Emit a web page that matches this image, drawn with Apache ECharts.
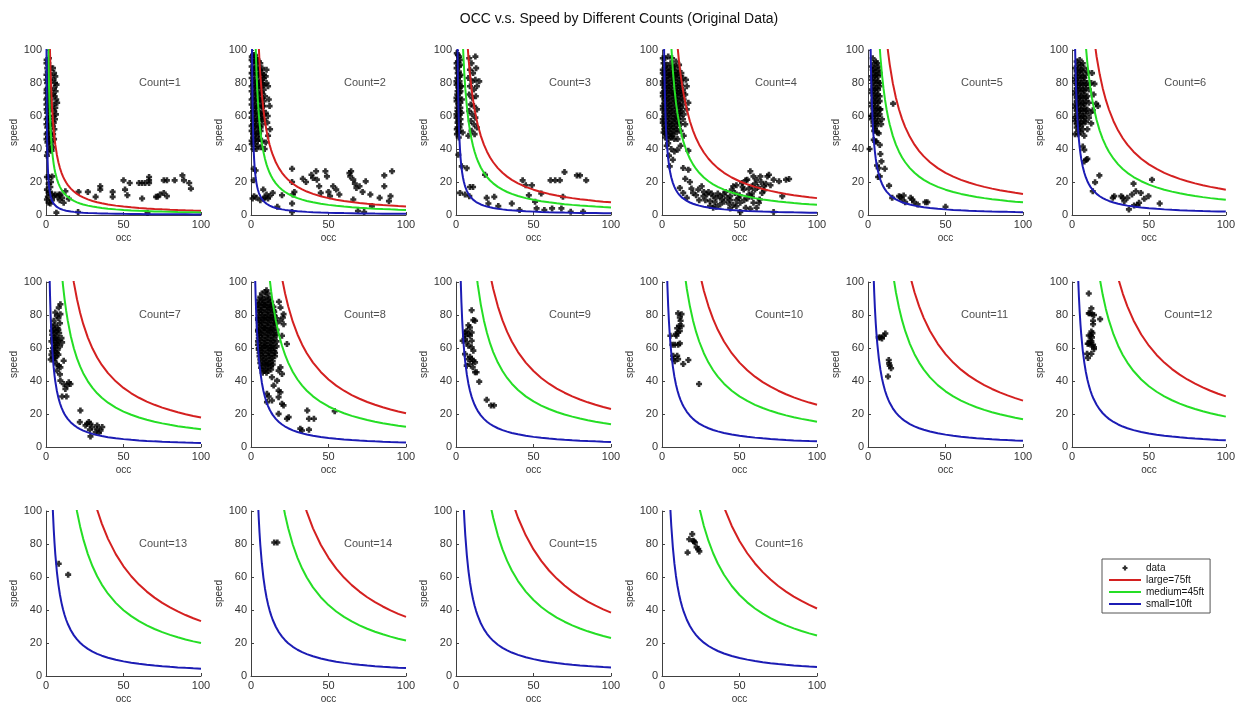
<!DOCTYPE html>
<html><head><meta charset="utf-8">
<script src="https://cdn.jsdelivr.net/npm/echarts@6/dist/echarts.min.js"></script>
<style>html,body{margin:0;padding:0;background:#fff}#c{width:1238px;height:706px}</style>
</head><body><div id="c"></div>
<script>
const titleText = 'OCC v.s. Speed by Different Counts (Original Data)';
const countValues = [1,2,3,4,5,6,7,8,9,10,11,12,13,14,15,16];
const countLabels = ['Count=1','Count=2','Count=3','Count=4','Count=5','Count=6','Count=7','Count=8','Count=9','Count=10','Count=11','Count=12','Count=13','Count=14','Count=15','Count=16'];
const curveNames = ['large=75ft','medium=45ft','small=10ft'];
const vehicleLengthsFt = [75,45,10];
const speedFactor = 3.41; // speed = count * length * factor / occ
const occSamples = [0.15,0.2,0.25,0.3,0.35,0.4,0.5,0.6,0.7,0.8,0.9,1,1.2,1.4,1.6,1.8,2,2.3,2.6,3,3.5,4,4.5,5,5.5,6,7,8,9,10,11,12,13,14,16,18,20,22,24,27,30,33,36,40,45,50,55,60,65,70,75,80,85,90,95,100];
const xTicks = [0,50,100];
const yTicks = [0,20,40,60,80,100];

const count1 = [[0.4,94],[1.5,92],[0.8,89],[2.2,88],[0.3,85],[1.4,84],[2.5,82],[0.7,80],[1.8,78],[0.4,76],[1.3,74],[2.4,73],[0.8,71],[1.9,69],[0.3,67],[1.4,65],[2.6,64],[0.7,62],[1.8,60],[0.4,58],[1.3,56],[2.3,55],[0.8,53],[1.9,51],[0.4,49],[1.3,47],[2.2,46],[0.9,44],[1.7,42],[2.5,40],[1.2,38],[0.6,36],
[1.9,95],[0.3,92],[2.4,90],[1.1,87],[2.7,85],[0.3,82],[1.6,81],[1.1,77],[2.6,76],[0.3,74],[1.7,72],[0.2,70],[2.7,70],[1.1,68],[2.3,66],[0.4,64],[1.6,63],[1.1,59],[2.7,58],[0.3,55],[1.8,54],[1.1,50],[2.7,49],[0.3,46],[1.9,44],
[4.5,89],[5.2,86],[6,84],[4.8,82],[5.8,80],[6.8,79],[5.2,77],[6.2,75],[4.6,73],[5.6,72],[6.6,70],[7.2,68],[5,67],[6,65],[5.3,63],[6.4,61],[4.7,60],[5.8,58],[5,56],[4.4,54],[5.4,52],[4.6,49],[5.2,46],[3.8,44],[4.4,41],[3.6,39],
[0.6,23],[2,23],[4,23.4],[1.7,19],[2.8,17],[0.6,15.4],[1.7,13.4],[4,12.4],[5,11.4],[6,12.4],[7.5,11],[9.3,12.4],[10.4,10.4],[8.9,9],[11.4,7.4],[12.5,14.4],[0.6,9.4],[1.7,7.4],[2.8,7],[3.9,9],[6.7,1.4],[14.7,9.8],[8.2,12.4],[3.2,20],[1.2,11],[2.5,14],
[21,14],[27,14],[32,11],[35,17.4],[35,15.4],[43,14],[43,11],[50,21],[51,15.4],[52.5,12],[54,19.4],[60,19.4],[62,19.4],[62,10],[64,19.4],[66.5,21],[66.5,19.4],[66.5,23],[65.5,1.4],[72,11],[73.6,12.4],[76,13.4],[76,21],[78,11.4],[78,21],[83,21],[88,24],[89,21],[92.4,19.4],[93.5,16],[71,11],[20.7,1.8]];

const count2 = [[0.5,96],[2.5,97],[1.2,93],[3.2,92],[5,93],[0.4,90],[2.3,89],[4.2,90],[6,88],[1.2,86],[3.3,86],[5.2,85],[7,86],[0.4,83],[2.3,82],[4.3,82],[6.2,81],[8,83],[1.3,79],[3.2,78],[5.3,78],[7.2,79],[0.4,75],[2.3,75],[4.3,74],[6.2,74],[8.2,76],[1.3,71],[3.3,71],[5.2,70],[7.2,71],[9,72],[0.4,67],[2.3,67],[4.3,66],[6.2,67],[8.2,66],[1.3,63],[3.2,63],[5.3,62],[7.2,63],[9.5,62],[0.4,59],[2.3,59],[4.3,58],[6.2,59],[8.3,58],[10.5,56],[1.3,55],[3.2,55],[5.2,54],[7.2,55],[0.4,51],[2.3,51],[4.3,50],[6.2,51],[1.3,47],[3.3,47],[5.3,46],[7,45],[0.5,43],[2.4,43],[4.2,42],[6.3,41],[1.5,40],[3.5,40],
[1.3,97],[3.5,95],[0.4,94],[2.3,93],[4.2,94],[6,92],[1.3,88],[3.3,89],[5.2,88],[7.2,89],[0.4,86],[2.3,85],[4.3,85],[6.2,85],[8.2,85],[1.3,81],[3.3,80],[5.3,80],[7.2,82],[0.4,78],[2.3,77],[4.3,77],[6.2,77],[8.3,79],[1.3,73],[3.3,73],[5.2,73],[7.2,74],[0.4,70],[2.3,69],[4.3,69],[6.2,70],[8.2,69],[1.3,65],[3.3,65],[5.2,65],[7.2,66],[0.4,62],[2.3,61],[4.3,61],[6.2,61],[8.2,61],[1.3,57],[3.3,57],[5.2,57],[7.2,58],[0.4,54],[2.3,53],[4.3,53],[6.2,53],[1.3,49],[3.3,49],[5.2,49],[0.4,45],[2.3,45],[4.3,45],
[10,80],[11,78],[9.5,84],[11.5,70],[12,66],[10.8,60],[12.3,52],[11,48],[9.5,44],[8.8,40],[10,88],
[1.7,28],[1.7,21],[2,11.4],[3.6,10.4],[7.9,15.4],[10,12.4],[11,10],[12,11.4],[9,10.4],[14,13.4],[17,5],[20,12],[26.5,28],[26.5,20],[27,12.4],[28,14],[26.5,7],[26.5,1.8],[33.4,22],[35.5,20],[39,24.4],[40,22.4],[42,26.5],[42.5,21.4],[44,17.4],[45,13.4],[48,26.5],[49,23.4],[50,14],[51,11.4],[53,17.4],[55,15.4],[57,12.4],[63.5,25.4],[64.6,26.5],[64,23.4],[66,21.4],[67,19],[68,16.4],[70,17.4],[72,14],[74,20.4],[77,12.4],[78,5.4],[83,10.4],[86,17.4],[86,24],[89,8.4],[90,11.4],[91,26.5],[66,9.4],[69,2.4],[73,1.8],[6,9],[8,10],[3,27],[1,10]];

const count3 = [[0.5,98],[2,96],[1.2,93],[2.8,91],[0.4,89],[1.8,87],[3,85],[0.9,83],[2.3,81],[0.4,79],[1.6,77],[2.9,75],[0.8,73],[2.1,71],[0.4,69],[1.5,67],[2.8,65],[0.9,63],[2.2,61],[0.4,59],[1.6,57],[2.9,55],[1,53],[2.2,51],[0.6,49],[1.8,47],[3.5,62],[3.8,70],[3.6,78],[4.3,50],
[1.2,97],[2.6,94],[0.4,92],[1.9,90],[1.1,86],[2.4,84],[0.3,81],[1.5,80],[2.8,78],[1,75],[2.3,74],[0.3,71],[1.4,70],[2.8,68],[1,65],[2.3,63],[0.3,61],[1.5,60],[2.9,58],[1,56],[2.3,53],[0.5,52],[1.6,50],
[8.5,95],[10,92],[12.5,96],[9,88],[11,86],[13,89],[8,83],[10.5,81],[12.5,82],[15,81],[9,78],[11.5,76],[13.5,78],[8.5,73],[10.5,71],[12.8,72],[9.5,67],[11.5,66],[13.5,64],[8.5,63],[10.5,61],[12.5,59],[9.5,57],[11.5,55],[13.5,53],[10,51],[12,49],[8,48],
[1.5,36.5],[3.7,29.5],[6.9,28.4],[5.8,12.4],[2.6,13.4],[9,17],[11,17],[8.6,11.4],[18.7,24.4],[19.8,10.4],[20.9,7],[24.7,11],[27.3,5.4],[36,7],[41,3],[43,21],[45,18],[49,18],[47,12],[51,8],[52,4],[55,13],[57,3],[61,21],[64,21],[67,21],[70,26],[69,11],[68,4],[62,4],[78,24],[80,24],[84,21],[82,2],[74,2]];

const count4 = [[1,92],[3,91],[5.5,92],[7.5,90],[0.5,88],[2.5,88],[4.5,87],[6.5,88],[8.5,87],[10.5,88],[1.5,85],[3.5,84],[5.5,85],[7.5,84],[9.5,85],[11.5,84],[0.5,81],[2.5,81],[4.5,80],[6.5,81],[8.5,81],[10.5,80],[12.5,81],[1.5,77],[3.5,77],[5.5,77],[7.5,76],[9.5,77],[11.5,77],[13.5,76],[0.5,74],[2.5,74],[4.5,73],[6.5,74],[8.5,73],[10.5,74],[12.5,73],[1.5,70],[3.5,70],[5.5,69],[7.5,70],[9.5,70],[11.5,69],[14,70],[0.5,66],[2.5,66],[4.5,66],[6.5,65],[8.5,66],[10.5,66],[12.5,65],[1.5,62],[3.5,62],[5.5,62],[7.5,61],[9.5,62],[11.5,62],[14,61],[0.5,58],[2.5,58],[4.5,58],[6.5,57],[8.5,58],[10.5,58],[1.5,54],[3.5,54],[5.5,54],[7.5,53],[9.5,54],[12,55],[1,50],[3,50],[5,50],[7,49],[9.5,50],[2,47],[4,46],[6,47],[8,46],
[2,95],[4,96],[6.5,95],[9,93],[0.5,95],[2,90],[4,89],[6.5,90],[8.5,90],[11,91],[0.5,86],[2.5,86],[4.5,85],[6.5,86],[8.5,85],[10.5,86],[12.5,86],[1.5,83],[3.5,82],[5.5,83],[7.5,82],[9.5,83],[11.5,82],[13.5,83],[0.5,79],[2.5,79],[4.5,78],[6.5,79],[8.5,79],[10.5,78],[12.5,79],[1.5,75],[3.5,75],[5.5,75],[7.5,74],[9.5,75],[11.5,75],[13.5,74],[0.5,72],[2.5,72],[4.5,71],[6.5,72],[8.5,71],[10.5,72],[12.5,71],[1.5,68],[3.5,68],[5.5,67],[7.5,68],[9.5,68],[11.5,67],[13.5,67],[0.5,64],[2.5,64],[4.5,64],[6.5,63],[8.5,64],[10.5,64],[12.5,63],[1.5,60],[3.5,60],[5.5,60],[7.5,59],[9.5,60],[11.5,60],[0.5,56],[2.5,56],[4.5,56],[6.5,55],[8.5,56],[10.5,56],[1.5,52],[3.5,52],[5.5,52],[7.5,51],[9.5,52],[2.5,49],[4.5,48],[6.5,48],
[15.5,82],[16,78],[15,73],[17,68],[16,64],[13.5,58],[15,55],[12,51],[10,46],[14,48],
[7,33.5],[8,38.5],[10,39.5],[4,43.5],[5,29.5],[13.7,28.5],[17,27.5],[17,39],[3,42],[6,40],[12,42],[4.5,36],
[11.5,16.4],[13.7,13.4],[16,10.4],[20,13.4],[23.4,15.4],[25.6,17.4],[26.7,11.4],[29,12.4],[31,8.4],[33,11.4],[34,7.8],[35,10.4],[37.5,11.4],[38.6,9.4],[39.7,12.4],[42,10.4],[44,11.4],[45,15.4],[46,17.4],[47,13.4],[49.5,10.4],[50.5,7.4],[51.6,19.4],[52.7,15.4],[55,21.4],[56,12.4],[57,26.5],[58,17.4],[59,23.4],[60,15.4],[61,21.4],[62.5,7.4],[63.5,23.4],[65.7,17.4],[68,23.4],[69,24.4],[72,21.4],[75.5,20.4],[77.6,11.4],[80,21.4],[82,21.8],[50.5,1.8],[72,1.8],[31,5.4],[33,4.4],[37.5,6.4],[43,7],[48,5.4],[54,4.4],[57,3.8],[59,7.4],[61,4.4],[63,9.4],[64.6,13.4],[28,9],[30,14],[32,13],[36,13],[40,8],[41,14],[44,9],[46,6],[48,9],[50,12],[53,9],[55,10],[58,11],[60,19],[62,17],[64,20],[66,15],[67,19],[70,18],[58,13],[56,16],[24,9],[22,12],[27,14],[35,5],[44,4],[52,17],[54,21],[48,18],[19,16],[18,20],[15,22]];

const count5 = [[3,95],[5,93],[2.5,90],[4.5,89],[6.5,90],[3.5,86],[5.5,85],[7.5,86],[2.5,82],[4.5,82],[6.5,81],[3.5,78],[5.5,77],[7.5,78],[2.5,74],[4.5,74],[6.5,73],[3.5,70],[5.5,70],[7.5,69],[2.5,66],[4.5,66],[6.5,65],[3.5,62],[5.5,62],[7.5,61],[2.5,58],[4.5,58],[6.5,57],[3.5,54],[5.5,54],[4,51],[6,50],[8.5,55],[8,64],[9,58],[2,60],
[4,92],[6,92],[3,88],[5,87],[7,88],[2.5,84],[4.5,84],[6.5,84],[3.5,80],[5.5,80],[7.5,80],[2.5,76],[4.5,76],[6.5,76],[3.5,72],[5.5,72],[7.5,72],[2.5,68],[4.5,68],[6.5,68],[3.5,64],[5.5,64],[7.5,64],[2.5,60],[4.5,60],[6.5,60],[3.5,56],[5.5,56],[4.5,52],
[1,40],[4.8,44.5],[7.6,42.5],[8,37],[8.7,32.5],[6.9,28.4],[5.8,30],[10.8,28],[7.6,23.4],[6.5,23],[13.6,17.8],[16.2,67.5],[15.6,10.4],[20,11.4],[21,11],[22,9.4],[23,11.8],[24,7.8],[27.5,10.4],[28.6,9.4],[29.7,7.8],[32,6.4],[37,7.8],[38.3,7.8],[50,5],[5.4,44.5],[6.9,49.5],[3.7,45.5]];

const count6 = [[3,93],[5,94],[7,92],[2,89],[4,89],[6,88],[8,89],[10,87],[3,85],[5,85],[7,84],[9,85],[2,81],[4,81],[6,80],[8,81],[10,80],[12.5,80],[3,77],[5,77],[7,76],[9,77],[11,76],[2,73],[4,73],[6,72],[8,73],[10,72],[3,69],[5,69],[7,68],[9,69],[11,68],[14.6,79.5],[15.7,67.5],[16.8,66],[13.5,63.5],[2,65],[4,65],[6,64],[8,65],[10,64],[12,62],[3,61],[5,61],[7,60],[9,61],[11,59],[2,57],[4,57],[6,56],[8,57],[9.2,56.5],[12.5,55.5],[3,53],[5,53],[7,52],[10,52],[2,49],[4,49],[6,50],[8,48],[14,73],[13,86],
[4,91],[6,91],[3,87],[5,87],[7,87],[2,83],[4,83],[6,83],[8,83],[3,79],[5,79],[7,79],[9,79],[2,75],[4,75],[6,75],[8,75],[3,71],[5,71],[7,71],[9,71],[2,67],[4,67],[6,67],[8,67],[3,63],[5,63],[7,63],[9,63],[2,59],[4,59],[6,59],[8,59],[3,55],[5,55],[7,55],[4,51],
[7,41.5],[8,39.5],[9.2,33.5],[10,34],[8,32.5],[13.5,14.4],[15,19.8],[17.8,24],[26.5,10.4],[27.5,11.4],[32,11.4],[33,10.4],[34,8.4],[37,3.4],[36,10.4],[39,12.4],[40,19],[41.5,14.4],[42.6,6],[43.6,7.4],[44.7,13.4],[47,9.8],[49.7,11.4],[52,21.4],[57,7],[40.4,5.8]];

const count7 = [[9.3,86.5],[8.2,84.5],[6,81.5],[7,79.5],[9.3,80.5],[5,76.5],[3.9,70.4],[10.4,63.4],[4.5,73],[6,74],[7.5,72],[9,75],[4,68],[5.5,69],[7,67],[8.5,69],[3.5,64],[5,65],[6.5,63],[8,64],[4.5,60],[6,60],[7.5,59],[9,61],[3.5,56],[5,57],[6.5,55],[8,56],[3,53],[5.5,52],[7,50],[11.4,52.3],[8.2,49.3],[9.3,48.3],[7,46.3],[9.3,40.2],[11.4,38.2],[12.5,35.2],[13.6,37.2],[14.7,39.2],[15.8,38.2],[10.4,30.6],[13.2,30.6],[22.2,22.1],[21.8,15.1],[25.5,13.1],[26.6,14.1],[27.6,15.1],[28.7,14.1],[28.3,10.5],[29.8,12.1],[28.7,6.4],[32,9],[33,11],[35.2,10],[36.3,12.1],[34.1,8.5],[33,13.1],[9,44],[10,66],[8,78],
[5,71],[6.5,70],[8,71],[4.5,66],[6,66],[7.5,65],[5.5,62],[7,62],[4,58],[5.5,58],[7,57],[4.5,54],[6,54]];

const count8 = [[9,94],[11,93],[6,91],[8,90],[10,91],[12,90],[5,87],[7,87],[9,86],[11,87],[13,86],[4.5,84],[6.5,83],[8.5,84],[10.5,83],[12.5,84],[14.5,83],[5,80],[7,80],[9,79],[11,80],[13,79],[15,80],[4.5,77],[6.5,76],[8.5,77],[10.5,76],[12.5,77],[14.5,76],[16.5,75],[5,73],[7,73],[9,72],[11,73],[13,72],[15,73],[4.5,70],[6.5,69],[8.5,70],[10.5,69],[12.5,70],[14.5,69],[16.5,68],[5,66],[7,66],[9,65],[11,66],[13,65],[15,66],[4.5,62],[6.5,62],[8.5,61],[10.5,62],[12.5,61],[14.5,62],[16.5,61],[5,59],[7,58],[9,59],[11,58],[13,59],[15,58],[5.5,55],[7.5,55],[9.5,54],[11.5,55],[13.5,54],[15.5,55],[6,51],[8,51],[10,50],[12,51],[14,50],[6.5,48],[9,47],[11,48],[13,47],[7.5,45],[10,45],
[7,93],[10,95],[5,89],[7,89],[9,88],[11,89],[13,88],[4.5,86],[6.5,85],[8.5,86],[10.5,85],[12.5,85],[14.5,85],[5,82],[7,82],[9,81],[11,82],[13,81],[15,82],[4.5,78],[6.5,78],[8.5,78],[10.5,78],[12.5,78],[14.5,78],[16.5,78],[5,75],[7,75],[9,74],[11,75],[13,74],[15,75],[4.5,71],[6.5,71],[8.5,72],[10.5,71],[12.5,71],[14.5,71],[16.5,71],[5,68],[7,68],[9,67],[11,68],[13,67],[15,68],[4.5,64],[6.5,64],[8.5,63],[10.5,64],[12.5,63],[14.5,64],[16.5,64],[5,60],[7,60],[9,61],[11,60],[13,60],[15,60],[5.5,57],[7.5,57],[9.5,56],[11.5,57],[13.5,56],[15.5,57],[6,53],[8,53],[10,52],[12,53],[14,52],[7,49],[9,50],[11,50],[13,49],[8.5,46],[11,46],
[19,84.5],[20.6,78.5],[21,74.4],[20,67.4],[23.2,62.4],[19,48.3],[17.8,46.3],[20,44.3],[13.5,42.3],[16.8,40.2],[14.6,37.2],[10.3,32.2],[11.4,30.6],[13.5,28.2],[10.3,27.2],[17.8,34.2],[19,33.2],[17.8,30.2],[20,26.2],[21,25.2],[17.8,20.1],[23.2,17.1],[24.3,18.1],[31.8,11.1],[32.9,10],[36.3,22.1],[37.4,10.5],[37.4,17.1],[40.6,17.1],[54,21.7],[21,80.5],[19,76.5],[18,88]];

const count9 = [[10.1,82.9],[11.2,76.9],[12.3,76.5],[8,73.8],[9,72.4],[6.9,70.4],[5.8,69.4],[8,68.4],[10.1,69.4],[9,67.4],[5.8,65.4],[4.3,64.4],[6.9,63.4],[10.1,64.4],[8,61.4],[10.1,60.4],[11.2,58.4],[5.8,56.3],[9,54.7],[8,53.3],[10.1,53.3],[11.2,52.3],[12.3,51.3],[9,50.3],[6.9,49.3],[10.8,48.3],[12.3,45.3],[13.3,45.3],[15,39.6],[19.8,28.6],[22.6,25.2],[24.5,25.2],[5.8,67.4]];

const count10 = [[5.4,67.4],[6.7,62],[8.2,62],[10.4,62],[11.5,62.8],[9.3,67.4],[10.4,69.4],[11.5,70.4],[9.8,72],[11,73.4],[12,76.5],[12.6,80.5],[10.4,81],[11.5,78.5],[12.6,73.4],[7.2,53.3],[8.2,52],[9.8,55.3],[10.4,53.3],[13.7,50.3],[17,52.7],[23.9,38.2],[7.2,55.3],[8.9,68.4]];

const count11 = [[6.9,66.4],[8,66.4],[9,65.8],[10.1,67.4],[11.2,68.8],[13.4,52.7],[14,49.3],[14.9,47.7],[12.9,42.7],[13.6,50.7]];

const count12 = [[10.9,93],[12.6,84],[11.5,81],[13,80.5],[14.3,80],[10.9,81],[13.7,76.5],[13.7,74.4],[12.6,70],[13.3,69],[12.2,67.6],[10.9,67.6],[13,66.4],[11.5,64.2],[12.6,64],[10.2,62.6],[13.7,62],[14.3,60.4],[14.3,59.4],[9.8,56.5],[12.6,56.5],[10.4,54],[18.3,77.5],[10.9,62.6],[12.2,62]];

const count13 = [[8.2,68],[14.3,61.4]];
const count14 = [[15,80.9],[17,80.9]];
const count15 = [];
const count16 = [[19.5,86],[17.6,82.9],[20.2,82],[21.3,80.9],[16.5,74.8],[22.3,78.1],[23.4,76.9],[24.1,75.5],[20.6,81.5]];

const panelData = [count1,count2,count3,count4,count5,count6,count7,count8,count9,count10,count11,count12,count13,count14,count15,count16];

// layout
const colLeft = [46, 251, 456, 662, 868, 1072];
const rowTop = [50, 282, 511];
const plotW = 155, plotH = 165;
const curveColors = ['#d42020', '#25de25', '#1c1cb4'];
const plusPath = 'path://M1.4,0H3.6V1.4H5V3.6H3.6V5H1.4V3.6H0V1.4H1.4Z';
const FONT = 'Liberation Sans, Arial, sans-serif';

const grids = [], xAxes = [], yAxes = [], series = [];
panelData.forEach((pts, i) => {
  const r = Math.floor(i / 6), c = i % 6;
  grids.push({ left: colLeft[c], top: rowTop[r], width: plotW, height: plotH });
  const axisCommon = {
    gridIndex: i, type: 'value', min: 0, max: 100,
    nameLocation: 'middle',
    nameTextStyle: { fontSize: 10, color: '#333', fontFamily: FONT },
    axisLine: { show: true, lineStyle: { color: '#404040', width: 1 } },
    axisTick: { show: true, inside: true, length: 3, lineStyle: { color: '#404040' } },
    axisLabel: { fontSize: 11, color: '#333', fontFamily: FONT, margin: 4 },
    splitLine: { show: false }
  };
  xAxes.push(Object.assign({}, axisCommon, { interval: xTicks[1] - xTicks[0], name: 'occ', nameGap: 18 }));
  yAxes.push(Object.assign({}, axisCommon, { interval: yTicks[1] - yTicks[0], name: 'speed', nameGap: 26 }));
  series.push({
    type: 'scatter', name: 'data', xAxisIndex: i, yAxisIndex: i, data: pts,
    symbol: plusPath, symbolSize: 6, itemStyle: { color: '#000' }, z: 2, silent: true
  });
  curveNames.forEach((nm, k) => {
    series.push({
      type: 'line', name: nm, xAxisIndex: i, yAxisIndex: i,
      data: occSamples.map(o => [o, countValues[i] * vehicleLengthsFt[k] * speedFactor / o]),
      symbol: 'none', showSymbol: false, clip: true, color: curveColors[k],
      lineStyle: { width: 2, color: curveColors[k] }, z: 3 + k, silent: true
    });
  });
  series.push({
    type: 'scatter', xAxisIndex: i, yAxisIndex: i, data: [[60, 80]], symbolSize: 0, silent: true, z: 10,
    label: { show: true, position: 'right', distance: 0, formatter: countLabels[i], fontSize: 11, color: '#222', fontFamily: FONT }
  });
});

const chart = echarts.init(document.getElementById('c'), null, { renderer: 'canvas' });
chart.setOption({
  animation: false,
  backgroundColor: '#fff',
  textStyle: { fontFamily: FONT },
  title: { text: titleText, left: 'center', top: 7, textStyle: { fontSize: 14, fontWeight: 'normal', color: '#111', fontFamily: FONT } },
  legend: {
    orient: 'vertical', left: 1102, top: 559,
    data: [
      { name: 'data', icon: plusPath },
      { name: 'large=75ft', itemStyle: { opacity: 0 } },
      { name: 'medium=45ft', itemStyle: { opacity: 0 } },
      { name: 'small=10ft', itemStyle: { opacity: 0 } }
    ],
    itemWidth: 32, itemHeight: 5, itemGap: 2, padding: [4, 6, 4, 6],
    borderColor: '#555', borderWidth: 1, backgroundColor: '#fff', selectedMode: false,
    textStyle: { fontSize: 10, color: '#111', fontFamily: FONT }
  },
  grid: grids, xAxis: xAxes, yAxis: yAxes, series: series
});
</script></body></html>
